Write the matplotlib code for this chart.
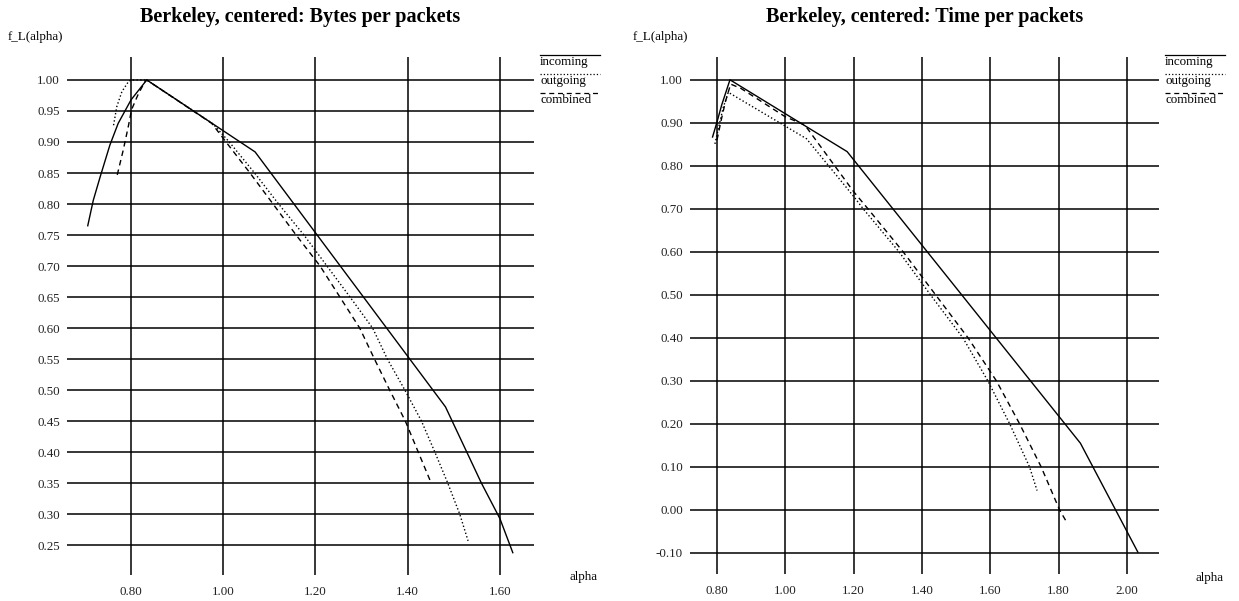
import matplotlib
matplotlib.use("Agg")
import matplotlib.pyplot as plt

plt.rcParams["font.family"] = ["Liberation Serif", "DejaVu Serif"]

# Multifractal spectrum f_L(alpha), Berkeley trace, centered
bytes_in_alpha = [0.706, 0.718, 0.733, 0.754, 0.772, 0.800, 0.834, 1.069, 1.482, 1.560, 1.600, 1.628]
bytes_in_f = [0.765, 0.806, 0.844, 0.895, 0.930, 0.968, 1.000, 0.884, 0.473, 0.350, 0.293, 0.238]

bytes_out_alpha = [0.762, 0.769, 0.780, 0.794, 0.800, 0.834, 0.978, 1.013, 1.036, 1.068, 1.120,
                   1.175, 1.225, 1.275, 1.324, 1.356, 1.394, 1.430, 1.459, 1.487, 1.513, 1.531]
bytes_out_f = [0.927, 0.957, 0.981, 0.997, 1.000, 1.000, 0.929, 0.900, 0.879, 0.850, 0.800,
               0.750, 0.700, 0.650, 0.600, 0.550, 0.500, 0.450, 0.400, 0.350, 0.300, 0.257]

bytes_comb_alpha = [0.770, 0.783, 0.794, 0.801, 0.816, 0.830, 0.834, 0.975, 1.006, 1.036, 1.058,
                    1.108, 1.158, 1.210, 1.253, 1.296, 1.328, 1.361, 1.395, 1.423, 1.450]
bytes_comb_f = [0.847, 0.887, 0.925, 0.952, 0.978, 0.997, 1.000, 0.930, 0.900, 0.871, 0.850,
                0.800, 0.750, 0.700, 0.650, 0.600, 0.550, 0.500, 0.450, 0.400, 0.352]

time_in_alpha = [0.787, 0.799, 0.814, 0.838, 1.181, 1.864, 2.032]
time_in_f = [0.867, 0.899, 0.942, 1.000, 0.833, 0.155, -0.098]

time_out_alpha = [0.794, 0.805, 0.818, 0.833, 1.062, 1.200, 1.228, 1.333, 1.425, 1.520,
                  1.593, 1.657, 1.715, 1.737]
time_out_f = [0.851, 0.890, 0.935, 0.971, 0.863, 0.729, 0.700, 0.600, 0.500, 0.400,
              0.300, 0.200, 0.100, 0.045]

time_comb_alpha = [0.800, 0.812, 0.825, 0.840, 0.870, 1.000, 1.057, 1.200, 1.242, 1.345,
                   1.440, 1.535, 1.618, 1.686, 1.749, 1.803, 1.824]
time_comb_f = [0.860, 0.905, 0.950, 0.990, 0.980, 0.914, 0.895, 0.740, 0.700, 0.600,
               0.500, 0.400, 0.300, 0.200, 0.100, 0.000, -0.029]

bytes_xticks = [0.80, 1.00, 1.20, 1.40, 1.60]
bytes_yticks = [0.25, 0.30, 0.35, 0.40, 0.45, 0.50, 0.55, 0.60, 0.65, 0.70, 0.75, 0.80, 0.85, 0.90, 0.95, 1.00]
time_xticks = [0.80, 1.00, 1.20, 1.40, 1.60, 1.80, 2.00]
time_yticks = [-0.10, 0.00, 0.10, 0.20, 0.30, 0.40, 0.50, 0.60, 0.70, 0.80, 0.90, 1.00]

series_names = ["incoming", "outgoing", "combined"]
styles = [dict(linestyle="-"), dict(linestyle=":"), dict(linestyle=(0, (4, 3)))]

W, H = 1239, 601
SMALL = 9.4


def setup_axes(ax, xlim, ylim, xticks, yticks, title):
    ax.set_xlim(*xlim)
    ax.set_ylim(*ylim)
    ax.set_xticks(xticks)
    ax.set_yticks(yticks)
    ax.set_xticklabels([f"{v:.2f}" for v in xticks])
    ax.set_yticklabels([f"{v:.2f}" for v in yticks])
    for s in ax.spines.values():
        s.set_visible(False)
    ax.tick_params(length=0, labelsize=SMALL, colors="#222")
    ax.tick_params(axis="y", pad=5)
    ax.tick_params(axis="x", pad=8)
    ax.grid(True, color="black", linewidth=1.1)
    ax.set_axisbelow(True)
    ax.set_title(title, fontsize=14.5, fontweight="bold", pad=25)


def draw_key(ax):
    # key sits right of the plot: sample line above each name
    x0, x1 = 1.013, 1.141
    line_y = [1.004, 0.967, 0.9305]
    text_y = [0.9846, 0.9479, 0.9112]
    for name, st, ly, ty in zip(series_names, styles, line_y, text_y):
        ax.plot([x0, x1], [ly, ly], transform=ax.transAxes, clip_on=False,
                color="black", linewidth=0.9, **st)
        ax.text(x0, ty, name, transform=ax.transAxes, fontsize=SMALL,
                ha="left", va="baseline")


fig = plt.figure(figsize=(W / 100, H / 100), dpi=100)
ax1 = fig.add_axes([67 / W, 1 - 575 / H, 467 / W, 518 / H])
ax2 = fig.add_axes([690 / W, 1 - 574 / H, 469 / W, 517 / H])

setup_axes(ax1, (0.661, 1.674), (0.202, 1.037), bytes_xticks, bytes_yticks,
           "Berkeley, centered: Bytes per packets")
setup_axes(ax2, (0.721, 2.094), (-0.149, 1.053), time_xticks, time_yticks,
           "Berkeley, centered: Time per packets")

bytes_series = [(bytes_in_alpha, bytes_in_f), (bytes_out_alpha, bytes_out_f),
                (bytes_comb_alpha, bytes_comb_f)]
time_series = [(time_in_alpha, time_in_f), (time_out_alpha, time_out_f),
               (time_comb_alpha, time_comb_f)]

for ax, series in [(ax1, bytes_series), (ax2, time_series)]:
    for (a, f), st in zip(series, styles):
        ax.plot(a, f, color="black", linewidth=1.0, **st)
    draw_key(ax)

fig.text(8 / W, 1 - 37 / H, "f_L(alpha)", fontsize=SMALL, ha="left", va="center")
fig.text(633 / W, 1 - 37 / H, "f_L(alpha)", fontsize=SMALL, ha="left", va="center")
fig.text(570 / W, 1 - 577 / H, "alpha", fontsize=SMALL, ha="left", va="center")
fig.text(1196 / W, 1 - 578 / H, "alpha", fontsize=SMALL, ha="left", va="center")

fig.savefig("out.png", dpi=100, facecolor="white")
